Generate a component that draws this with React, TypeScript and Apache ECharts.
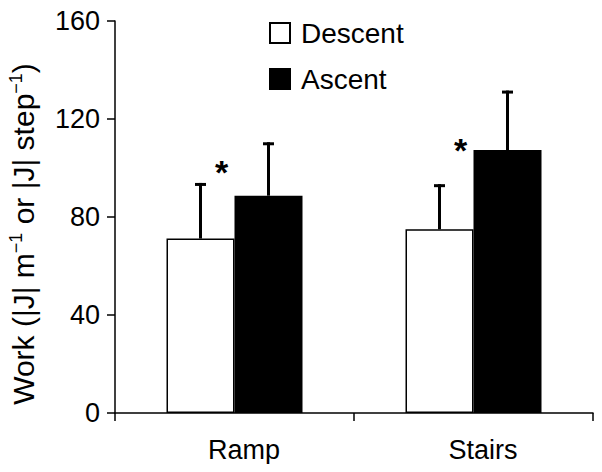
import React, { useEffect, useRef } from "react";
import * as echarts from "echarts";

const categories = ["Ramp", "Stairs"];
const descentMean = [71.2, 75.0];
const descentSD = [22.7, 18.4];
const ascentMean = [88.7, 107.3];
const ascentSD = [21.8, 24.3];
const asteriskY = [98.4, 107.5];
const yTicks = [0, 40, 80, 120, 160];
const yTitle = "{n|Work (|J| m}{s|−1}{n| or |J| step}{s|−1}{n|)}";

const FONT = "'Liberation Sans', Arial, Helvetica, sans-serif";
const BAR_W = 68;

export default function App() {
  const ref = useRef<HTMLDivElement>(null);
  useEffect(() => {
    if (!ref.current) return;
    const chart = echarts.init(ref.current, undefined, { renderer: "svg" });
    const errData: any[] = [];
    categories.forEach((_, i) => {
      errData.push([i, descentMean[i], descentSD[i], -1]);
      errData.push([i, ascentMean[i], ascentSD[i], 1]);
    });
    const starData = categories.map((_, i) => [i, asteriskY[i]]);
    chart.setOption({
      animation: false,
      backgroundColor: "#fff",
      textStyle: { fontFamily: FONT },
      grid: { left: 115, top: 21, width: 478, height: 392, containLabel: false },
      legend: {
        orient: "vertical",
        left: 269,
        top: 19,
        padding: 0,
        itemWidth: 20,
        itemHeight: 20,
        itemGap: 18,
        icon: "rect",
        data: ["Descent", "Ascent"],
        textStyle: { fontSize: 28, color: "#000", fontFamily: FONT, padding: [0, 0, 0, 6] },
      },
      graphic: [
        {
          type: "text",
          x: 23,
          y: 234,
          rotation: Math.PI / 2,
          style: {
            text: yTitle,
            align: "center",
            verticalAlign: "middle",
            rich: {
              n: { fontSize: 30, fill: "#000", fontFamily: FONT, lineHeight: 33 },
              s: { fontSize: 18, fill: "#000", fontFamily: FONT, verticalAlign: "top", lineHeight: 33 },
            },
          },
        },
      ],
      xAxis: {
        type: "category",
        data: categories,
        boundaryGap: true,
        axisLine: { lineStyle: { color: "#000", width: 1.5 } },
        axisTick: { show: true, length: 8, lineStyle: { color: "#000", width: 1.5 } },
        axisLabel: { fontSize: 27, color: "#000", margin: 23, padding: [0, 0, 0, 19], fontFamily: FONT },
        splitLine: { show: false },
      },
      yAxis: {
        type: "value",
        min: yTicks[0],
        max: yTicks[yTicks.length - 1],
        interval: 40,
        axisLine: { show: true, lineStyle: { color: "#000", width: 1.5 } },
        axisTick: { show: true, length: 8, lineStyle: { color: "#000", width: 1.5 } },
        axisLabel: { fontSize: 27, color: "#000", margin: 15, fontFamily: FONT },
        splitLine: { show: false },
      },
      series: [
        {
          name: "Descent",
          type: "bar",
          data: descentMean,
          barWidth: BAR_W,
          barGap: "0%",
          itemStyle: { color: "#fff", borderColor: "#000", borderWidth: 1.5 },
        },
        {
          name: "Ascent",
          type: "bar",
          data: ascentMean,
          barWidth: BAR_W,
          barGap: "0%",
          itemStyle: { color: "#000", borderColor: "#000", borderWidth: 1.5 },
        },
        {
          type: "custom",
          data: errData,
          z: 5,
          renderItem: (params: any, api: any) => {
            const cat = api.value(0);
            const mean = api.value(1);
            const sd = api.value(2);
            const side = api.value(3);
            const base = api.coord([cat, mean]);
            const top = api.coord([cat, mean + sd]);
            const x = base[0] + (side * BAR_W) / 2;
            return {
              type: "group",
              children: [
                {
                  type: "line",
                  shape: { x1: x, y1: base[1], x2: x, y2: top[1] },
                  style: { stroke: "#000", lineWidth: 3 },
                },
                {
                  type: "line",
                  shape: { x1: x - 5.5, y1: top[1] + 1.5, x2: x + 5.5, y2: top[1] + 1.5 },
                  style: { stroke: "#000", lineWidth: 3 },
                },
              ],
            };
          },
        },
        {
          type: "custom",
          data: starData,
          z: 6,
          renderItem: (params: any, api: any) => {
            const p = api.coord([api.value(0), api.value(1)]);
            return {
              type: "text",
              x: p[0] - 13,
              y: p[1],
              style: {
                text: "*",
                fontSize: 34,
                fontWeight: "bold",
                fontFamily: FONT,
                fill: "#000",
                align: "center",
                verticalAlign: "middle",
              },
            };
          },
        },
      ],
    });
    return () => chart.dispose();
  }, []);
  return <div ref={ref} style={{ width: 602, height: 472, margin: -8 }} />;
}
